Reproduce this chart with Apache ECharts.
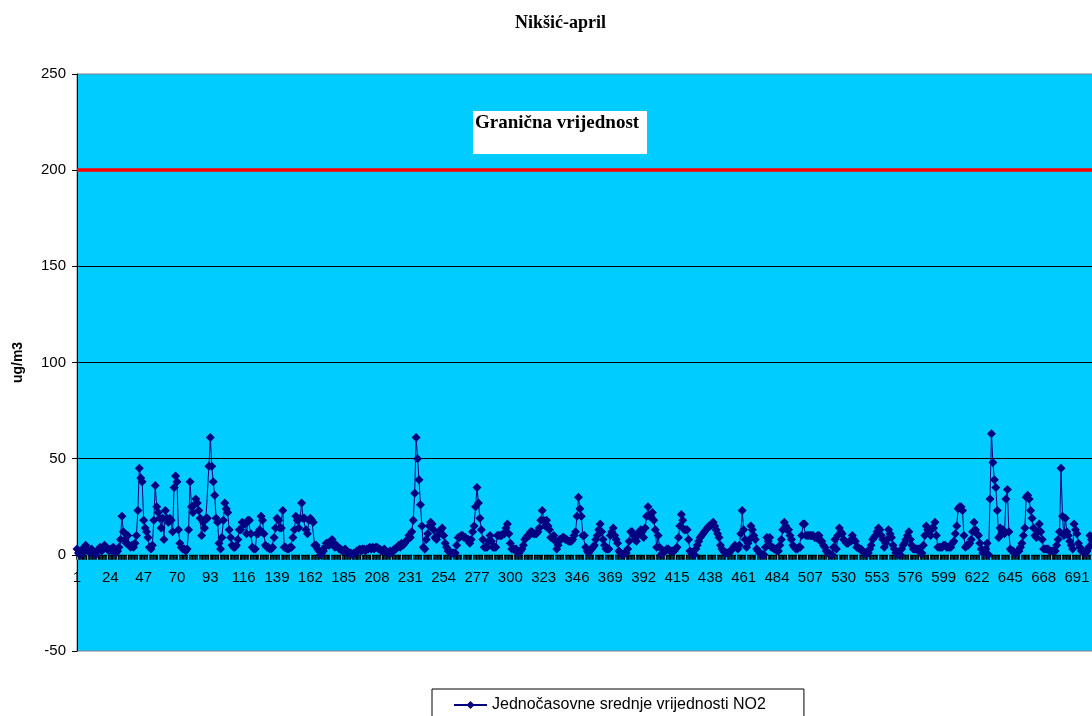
<!DOCTYPE html>
<html>
<head>
<meta charset="utf-8">
<script src="https://cdn.jsdelivr.net/npm/echarts@6/dist/echarts.min.js"></script>
<style>
html,body{margin:0;padding:0;background:#fff;}
#chart{width:1092px;height:716px;}
</style>
</head>
<body>
<div id="chart"></div>
<script>
// ---- data (hourly NO2, April, categories 1..720) ----
const chartTitle = 'Nikšić-april';
const seriesName = 'Jednočasovne srednje vrijednosti NO2';
const limitLabel = 'Granična vrijednost';
const limitValue = 200;
const yTicks = [-50, 0, 50, 100, 150, 200, 250];

const no2_h1_23 = [3,1,0,2,1,4,5,3,2,1,3,2,1,0,2,3,4,2,3,5,4,3,2];
const no2_h24_47 = [3,2,4,3,1,2,4,8,20,12,8,6,10,5,4,5,4,6,10,23,45,40,38,18];
const no2_h48_70 = [14,12,9,4,3,5,18,36,25,22,19,14,19,8,23,19,17,19,18,12,35,41,38];
const no2_h71_93 = [13,6,4,3,3,2,3,13,38,25,22,26,29,27,23,19,10,17,14,19,19,46,61];
const no2_h94_116 = [46,38,31,19,17,6,3,9,18,27,24,22,13,9,5,4,4,5,8,13,13,17,16];
const no2_h117_139 = [16,11,18,18,11,4,3,3,11,11,13,20,18,11,5,4,4,3,3,4,9,14,19];
const no2_h140_162 = [18,14,14,23,4,4,3,3,4,4,9,13,20,18,14,19,27,19,19,13,11,18,19];
const no2_h163_172 = [18,17,5,5,3,2,0,1,2,4];
const no2_h173_350 = [
  6,6,5,7,8,6,4,5,4,3,
  3,2,2,3,2,1,1,1,0,1,
  1,2,2,3,2,3,3,2,3,3,
  4,3,4,3,4,4,3,3,2,2,
  3,2,1,1,2,1,2,3,3,4,
  5,4,6,5,6,7,8,10,9,12,
  18,32,61,50,39,26,15,4,3,8,
  11,15,17,16,13,9,8,10,12,13,
  14,10,6,4,2,2,1,1,1,1,
  5,9,9,10,10,9,9,8,8,6,
  8,12,15,25,35,27,19,13,8,4,
  4,4,7,10,7,4,4,4,10,10,
  10,10,11,11,14,16,11,6,3,3,
  3,3,1,1,2,3,5,8,9,10,
  10,12,12,11,11,11,12,14,18,23,
  18,15,18,15,13,9,9,10,7,3,
  5,8,8,9,9,8,8,7,7,7,
  8,10,12,20,30,24,20,10
];
const no2_h351_524 = [
  10,4,2,1,2,3,4,5,8,10,
  13,16,12,8,5,3,3,3,10,12,
  14,10,8,6,2,1,0,0,1,1,
  3,7,12,12,10,8,7,10,12,13,
  12,9,14,20,25,20,20,22,18,13,
  4,10,4,0,1,2,2,3,3,2,
  2,2,2,3,4,9,15,21,18,13,
  13,13,8,2,1,0,0,3,5,7,
  9,10,11,12,13,14,15,15,16,17,
  15,13,11,9,5,3,2,1,1,1,
  1,2,3,4,5,4,3,5,11,23,
  13,8,4,6,8,15,13,10,8,3,
  2,1,0,0,0,4,9,7,9,4,
  4,3,3,2,2,5,8,13,17,15,
  13,13,10,8,5,4,3,3,4,4,
  10,16,16,10,10,10,10,10,10,9,
  9,10,10,7,7,5,4,2,1,1,
  0,0,4,8
];
const no2_h525_720 = [
  3,10,14,12,11,8,7,6,6,7,
  7,10,8,7,4,4,3,3,2,1,
  1,1,1,3,5,8,9,10,12,14,
  13,10,8,4,6,8,13,11,9,5,
  3,1,1,0,0,3,5,6,8,10,
  12,8,5,3,3,3,3,3,1,1,
  5,10,15,13,12,10,14,14,17,10,
  4,4,4,4,5,5,4,4,4,4,
  6,7,11,15,24,25,25,23,10,4,
  5,5,6,8,12,17,13,11,10,6,
  3,1,2,3,6,0,29,63,48,39,
  35,23,9,14,11,13,11,29,34,12,
  3,2,2,1,1,2,2,4,6,10,
  14,30,31,29,23,19,14,10,9,12,
  16,12,8,3,3,3,3,2,2,2,
  2,2,5,8,12,45,20,10,19,12,
  10,7,5,3,16,13,11,6,4,2,
  2,1,1,2,4,10,8,6,4,3,
  5,9,12,10,7,5,3,2,2,4,
  6,8,7,5,3,2
];

const no2Values = [].concat(no2_h1_23, no2_h24_47, no2_h48_70, no2_h71_93, no2_h94_116,
  no2_h117_139, no2_h140_162, no2_h163_172, no2_h173_350, no2_h351_524, no2_h525_720);
const hourCategories = no2Values.map((v, i) => String(i + 1));

// ---- layout ----
const gridLeft = 77, gridTop = 74, gridWidth = 1042, gridHeight = 577;
const yMin = yTicks[0], yMax = yTicks[yTicks.length - 1];
// distance of the zero line from the plot bottom / top (axis placed on the zero line)
const zeroFromBottom = gridHeight * (0 - yMin) / (yMax - yMin);
const zeroFromTop = gridHeight - zeroFromBottom;

const chart = echarts.init(document.getElementById('chart'), null, {renderer: 'canvas'});
const sans = 'Liberation Sans, Arial, sans-serif';
const serif = 'Liberation Serif, Times New Roman, serif';
const plotColor = '#00CCFF';

chart.setOption({
  animation: false,
  backgroundColor: '#ffffff',
  title: {
    text: chartTitle,
    left: 510, top: 9,
    textStyle: {fontFamily: serif, fontSize: 18, fontWeight: 'bold', color: '#000'}
  },
  grid: {
    left: gridLeft, top: gridTop, width: gridWidth, height: gridHeight,
    outerBoundsMode: 'none',
    show: true, backgroundColor: plotColor, borderColor: '#808080', borderWidth: 1,
    containLabel: false
  },
  legend: {
    data: [seriesName],
    left: 432, top: 689,
    backgroundColor: '#ffffff', borderColor: '#000', borderWidth: 1,
    padding: [8, 38, 10, 21],
    itemWidth: 33, itemHeight: 10, itemGap: 5,
    textStyle: {fontFamily: sans, fontSize: 16, color: '#000'}
  },
  xAxis: [{
    type: 'category',
    data: hourCategories,
    boundaryGap: false,
    position: 'bottom',
    offset: -zeroFromBottom,
    axisLine: {onZero: false, lineStyle: {color: '#000', width: 1}},
    axisTick: {show: true, interval: 0, length: 5, lineStyle: {color: '#000', width: 1.5}},
    axisLabel: {interval: 22, margin: 16, fontFamily: sans, fontSize: 15, color: '#000'},
    splitLine: {show: false}
  }, {
    type: 'category',
    data: hourCategories,
    boundaryGap: false,
    position: 'top',
    offset: -zeroFromTop,
    axisLine: {show: false, onZero: false},
    axisTick: {show: true, inside: true, interval: 6, length: 5, lineStyle: {color: plotColor, width: 1}},
    axisLabel: {show: false},
    splitLine: {show: false}
  }],
  yAxis: {
    type: 'value',
    min: yMin, max: yMax, interval: 50,
    name: 'ug/m3', nameLocation: 'middle', nameGap: 52, nameRotate: 90,
    nameTextStyle: {fontFamily: sans, fontSize: 14, fontWeight: 'bold', color: '#000'},
    axisLine: {show: true, lineStyle: {color: '#000', width: 1}},
    axisTick: {show: true, length: 5, lineStyle: {color: '#000'}},
    axisLabel: {margin: 11, fontFamily: sans, fontSize: 15, color: '#000'},
    splitLine: {show: true, showMinLine: false, showMaxLine: false, lineStyle: {color: '#000', width: 1}}
  },
  series: [{
    name: seriesName,
    type: 'line',
    data: no2Values,
    symbol: 'diamond',
    symbolSize: 9,
    showAllSymbol: true,
    lineStyle: {color: '#000080', width: 1},
    itemStyle: {color: '#000080'},
    markLine: {
      silent: true,
      symbol: ['none', 'none'],
      label: {show: false},
      lineStyle: {color: '#FF0000', width: 3.5, type: 'solid'},
      data: [{yAxis: limitValue}]
    },
    z: 3
  }],
  graphic: [{
    type: 'group',
    left: 473, top: 111,
    children: [{
      type: 'rect',
      shape: {x: 0, y: 0, width: 174, height: 43},
      style: {fill: '#ffffff'}
    }, {
      type: 'text',
      x: 2, y: 3,
      style: {text: limitLabel, font: 'bold 19px ' + serif, fill: '#000'}
    }]
  }]
});
</script>
</body>
</html>
